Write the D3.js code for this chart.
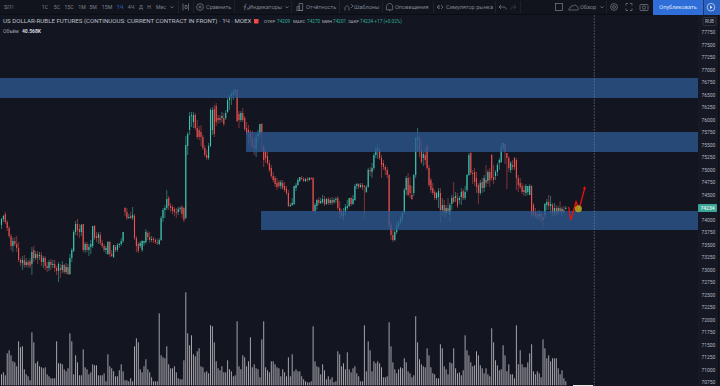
<!DOCTYPE html>
<html><head><meta charset="utf-8">
<script src="https://cdn.jsdelivr.net/npm/d3@7/dist/d3.min.js"></script>
<style>html,body{margin:0;padding:0;background:#131520;overflow:hidden}svg{display:block}text{font-family:Roboto,"Noto Sans",sans-serif}</style>
</head><body><svg id="c" width="720" height="386"></svg>
<script>
const opens=[73890,74010,74110,73950,73830,73670,73470,73570,73510,73430,
73190,73130,73190,73090,73150,73170,73110,73390,73230,73310,
73270,73290,73150,73230,73070,73030,73150,73090,73110,73030,
72970,73030,72990,73090,72950,73050,72910,73230,73370,73750,
73910,73810,73750,73910,73390,73510,73390,73450,73470,73870,
73670,73630,73690,73530,73470,73390,73310,73550,73310,73250,
73450,73390,73490,73510,73570,74230,74150,74030,74070,74030,
74070,73630,73510,73470,73390,73530,73550,73730,73650,73590,
73610,73590,73550,73510,73590,74030,74190,74230,74430,74270,
74250,74210,74150,74150,74210,74250,74230,74030,75470,75790,
76070,75950,76090,75830,75790,75750,75650,75430,75290,75230,
75470,75790,76210,76270,76030,76030,76030,76030,76030,76150,
76390,76470,76490,76550,76590,76110,75990,76130,76030,75830,
75790,75730,75630,75470,75430,75670,75710,75910,75450,75350,
75270,75130,75030,74870,74830,74730,74750,74670,74730,74670,
74610,74530,74270,74290,74310,74630,74690,74770,74830,74810,
74770,74810,74790,74830,74830,74170,74270,74390,74330,74350,
74410,74310,74410,74330,74390,74350,74390,74430,74230,74170,
74070,74150,74230,74270,74430,74310,74390,74670,74710,74650,
74690,74670,74550,74650,74990,74950,75030,75290,75390,75390,
75230,75130,75050,74990,74890,73890,73690,73590,73750,73870,
73950,74010,74130,74590,74830,74690,74490,74530,74890,75590,
75630,75390,75230,75290,75470,75030,74790,74630,74550,74430,
74450,74530,74190,74290,74130,74230,74090,74310,74450,74430,
74430,74390,74450,74570,74430,74590,74890,75330,74930,74950,
74830,74690,74530,74750,74630,74790,74770,74950,75290,74850,
74870,74950,75130,75150,75430,75510,75330,75230,74990,75090,
75230,75190,74830,74730,74670,74590,74530,74550,74490,74670,
74290,74150,74110,74070,74110,74050,74090,74290,74350,74270,
74290,74130,74230,74150,74230,74150,74190,74209];
const closes=[74010,74070,73950,73830,73670,73470,73570,73510,73430,73190,
73130,73190,73090,73150,73090,73070,73350,73230,73310,73230,
73290,73150,73230,73070,73030,73150,73090,73110,73030,72970,
73110,72990,73090,72950,73050,72910,73230,73390,73750,73910,
73790,73750,73890,73390,73510,73390,73450,73510,73870,73630,
73630,73710,73530,73470,73390,73430,73550,73310,73270,73490,
73390,73490,73510,73570,73750,74150,74030,74050,74030,74090,
73630,73470,73370,73530,73570,73570,73750,73650,73590,73610,
73590,73550,73530,73590,74030,74190,74230,74410,74270,74230,
74170,74150,74130,74210,74230,74110,73990,75490,75710,76070,
76090,76090,75830,75650,75650,75650,75430,75290,75230,75470,
76190,76190,75710,75950,75990,75990,76070,75910,76130,76390,
76470,76510,76550,76590,75970,75990,76130,75990,75810,75730,
75730,75630,75470,75430,75650,75710,75910,75750,75190,75230,
75130,74990,74870,74790,74710,74650,74670,74750,74630,74590,
74530,74270,74290,74330,74670,74690,74790,74850,74810,74770,
74810,74790,74830,74810,74170,74290,74390,74330,74370,74410,
74310,74410,74330,74390,74330,74390,74410,74230,74130,74070,
74150,74250,74270,74430,74310,74410,74670,74710,74650,74690,
74650,74650,74650,74990,74970,75030,75290,75390,75430,75230,
75090,75050,74990,74890,73890,73690,73590,73750,73890,73950,
74030,74130,74590,74830,74490,74530,74410,74890,75630,75650,
75390,75150,75310,75190,75030,74690,74590,74530,74430,74530,
74570,74190,74290,74130,74230,74150,74290,74430,74350,74470,
74270,74430,74550,74430,74550,74890,75290,74930,74910,74750,
74650,74530,74730,74630,74830,74730,74950,74790,74830,74790,
74950,75090,75190,75430,75530,75350,75230,75030,75130,75050,
75050,74830,74690,74650,74550,74550,74670,74670,74670,74090,
74110,74070,74030,74110,74050,73990,74310,74350,74270,74310,
74130,74230,74110,74230,74150,74210,74150,74234];
const highs=[74030,74090,74150,73990,73870,73710,73630,73650,73670,73550,
73230,73270,73290,73230,73190,73230,73450,73470,73370,73370,
73350,73350,73270,73270,73150,73190,73210,73190,73190,73070,
73150,73110,73170,73110,73130,73110,73310,73430,73790,73970,
74010,73910,73910,73910,73550,73550,73510,73590,73870,73890,
73750,73750,73750,73590,73510,73470,73570,73570,73390,73490,
73490,73530,73530,73630,73750,74250,74230,74110,74150,74250,
74110,73670,73550,73570,73590,73570,73810,73770,73750,73670,
73650,73630,73610,73630,74070,74230,74290,74590,74470,74330,
74290,74250,74230,74250,74270,74290,74250,75670,75750,76150,
76150,76150,76130,75990,75870,75890,75690,75490,75390,75530,
76230,76250,76290,76330,76090,76090,76150,76130,76190,76430,
76490,76570,76590,76610,76610,76170,76170,76230,76070,75950,
75890,75790,75770,75630,75690,75790,75910,75930,75490,75390,
75350,75190,75090,74950,74870,74830,74790,74790,74790,74750,
74670,74590,74330,74430,74670,74730,74830,74850,74870,74850,
74830,74850,74850,74850,74850,74330,74410,74450,74430,74490,
74470,74430,74450,74430,74450,74430,74450,74470,74370,74210,
74230,74310,74390,74430,74450,74490,74710,74730,74730,74730,
74730,74690,74690,75030,75050,75130,75330,75470,75510,75430,
75290,75190,75090,75050,74910,73950,73790,73830,73950,73990,
74070,74150,74630,74870,74930,74850,74670,74910,75650,75830,
75690,75590,75350,75430,75510,75090,74830,74730,74590,74550,
74630,74630,74430,74390,74290,74430,74330,74490,74750,74550,
74530,74470,74630,74610,74670,74910,75330,75350,74990,75030,
74950,74730,74790,74830,74890,75090,74990,75030,75310,75090,
74990,75130,75230,75530,75530,75530,75330,75270,75170,75190,
75250,75230,74890,74830,74730,74690,74710,74670,74710,74690,
74330,74230,74150,74190,74150,74110,74330,74410,74490,74470,
74330,74330,74290,74270,74370,74250,74270,74270];
const lows=[73810,73950,73910,73770,73630,73390,73350,73470,73350,73150,
73070,72990,73030,73050,73030,73030,72890,73150,73190,73110,
73190,73070,73030,72990,72950,72970,72990,73030,72950,72890,
72750,72830,72930,72910,72910,72890,72890,73150,73350,73690,
73670,73630,73670,73350,73330,73350,73270,73310,73430,73590,
73550,73510,73490,73430,73350,73310,73290,73250,73250,73230,
73350,73350,73430,73470,73530,74070,73990,74010,74010,73990,
73590,73350,73330,73430,73350,73470,73510,73590,73530,73550,
73530,73510,73490,73490,73570,73950,74030,74190,74190,74150,
74110,74070,74030,74090,74150,74030,73950,74010,75290,75690,
75850,75830,75790,75610,75590,75470,75390,75250,75190,75190,
75450,75690,75650,75870,75910,75930,75950,75870,75990,76130,
76190,76290,76390,76470,75950,75830,75950,75950,75770,75690,
75510,75470,75430,75290,75250,75550,75650,75390,75050,75130,
75090,74950,74830,74750,74650,74590,74630,74610,74590,74550,
74490,74250,74250,74270,74290,74570,74670,74750,74790,74750,
74750,74750,74770,74790,74150,74110,74190,74290,74310,74310,
74270,74290,74290,74290,74290,74310,74330,74190,74030,74010,
73990,74070,74190,74250,74270,74290,74370,74610,74610,74630,
74590,73990,74530,74630,74870,74830,74990,75230,75210,75190,
74830,74990,74890,74830,73810,73590,73550,73570,73710,73830,
73910,73950,74110,74490,74470,74430,74390,74470,74830,75350,
75250,75110,75070,75090,74990,74650,74530,74490,74390,74390,
74230,73930,74070,74030,74050,74110,73950,74190,74330,74350,
74230,74310,74290,74390,74390,74550,74870,74890,74710,74670,
74530,74310,74490,74530,74550,74650,74710,74650,74770,74710,
74790,74870,74990,75130,75390,75110,74610,74950,74930,74990,
74990,74590,74550,74610,74510,74470,74470,74490,74490,74050,
74070,74030,74010,73990,73950,73830,74030,74190,74190,74110,
74070,74070,74050,74090,74110,74070,74110,74201];
const volumes=[110,130,100,320,350,300,240,230,190,440,
380,390,160,110,90,50,530,430,220,240,
190,180,170,180,110,90,70,70,70,440,
220,220,210,160,140,170,520,440,110,300,
230,100,100,360,180,160,110,130,210,200,
200,100,100,100,120,40,310,190,170,140,
90,90,150,210,140,50,50,40,70,40,
390,470,430,160,130,190,260,160,130,80,
40,40,40,720,300,280,270,390,210,170,
170,190,130,70,60,60,250,930,520,400,
500,310,290,340,370,190,180,130,140,120,
600,590,430,240,170,150,190,130,130,250,
160,140,90,100,640,190,160,300,280,190,
240,480,180,210,170,160,80,460,640,180,
150,130,240,240,210,180,170,90,160,130,
90,280,90,310,140,160,140,140,90,60,
40,30,30,40,590,240,190,180,110,210,
150,60,90,60,80,30,40,340,310,190,
220,160,330,160,130,170,190,120,90,40,
40,600,140,440,350,140,240,220,240,220,
180,80,80,90,630,390,230,160,120,160,
180,170,270,230,140,120,80,100,690,430,
260,210,190,180,370,300,180,120,110,70,
70,410,370,190,160,110,230,220,370,170,
120,130,100,150,500,350,300,230,190,200,
340,300,200,170,120,170,110,90,570,430,
250,200,150,160,400,300,140,210,110,110,
70,600,210,350,210,180,180,230,320,410,
140,110,140,120,80,460,370,270,300,240,
270,270,270,170,110,150,70,40];

const zoneStart=[-1,128.7,136.6];
const zoneTop=[76830,75750,74170];
const zoneBottom=[76430,75350,73790];
const crosshairIndex=312;
const arrowIndex=[298.5,299.6,302.4,304,307.1];
const arrowPrice=[74250,73990,74356,74210,74644];
const markerIndex=[303.6];
const markerPrice=[74215];
const priceTicks=d3.range(70750,77751,250).filter(d=>d!==74250);
const resolutions=["1С","5С","15С","1М","5М","15М","1Ч","4Ч","Д","Н","Мес"];
const resolutionX=[45,57,69,82,93,107,120,131,141,149,161];
const toolLabels=["Сравнить","Индикаторы","Отчётность","Шаблоны","Оповещения","Симулятор рынка","Обзор"];
const toolLabelX=[206,249,306,354,395,446,580];
const separators=[178,193,234,291,339,382,433,495,520,606];
const ohlcLabels=["ОТКР","МАКС","МИН","ЗАКР"];
const ohlcValues=["74209","74270","74201","74234 +17 (+0.02%)"];
const ohlcLabelX=[264,293,322,348];
const ohlcValueX=[277,307,333,360];

const BG="#131520",UP="#3fc9b4",DOWN="#ef5350",DIM="#7d818d";
const svg=d3.select("#c");
const x=d3.scaleLinear().domain([0,297]).range([1.5,565.8]);
const y=d3.scaleLinear().domain([77750,70750]).range([32,382]);
const v=d3.scaleLinear().domain([0,1000]).range([385.3,285.3]);
svg.append("rect").attr("width",720).attr("height",386).attr("fill",BG);

const defs=svg.append("defs");
defs.append("clipPath").attr("id","plot").append("rect").attr("x",0).attr("y",15).attr("width",698).attr("height",371);
const plot=svg.append("g").attr("clip-path","url(#plot)");
const idx=d3.range(closes.length);

plot.append("g").selectAll("rect").data(idx).join("rect")
 .attr("x",i=>x(i)-.5).attr("width",1)
 .attr("y",i=>v(volumes[i])).attr("height",i=>v(0)-v(volumes[i]))
 .attr("fill","#a4a4aa");

const candles=plot.append("g");
candles.selectAll("line").data(idx).join("line")
 .attr("x1",i=>x(i)).attr("x2",i=>x(i))
 .attr("y1",i=>y(highs[i])).attr("y2",i=>y(lows[i]))
 .attr("stroke",i=>closes[i]>=opens[i]?UP:DOWN).attr("stroke-width",.5);
candles.selectAll("rect").data(idx).join("rect")
 .attr("x",i=>x(i)-.55).attr("width",1.1)
 .attr("y",i=>y(Math.max(opens[i],closes[i])))
 .attr("height",i=>Math.max(.6,Math.abs(y(opens[i])-y(closes[i]))))
 .attr("fill",i=>closes[i]>=opens[i]?UP:DOWN);

plot.append("g").selectAll("rect").data(zoneStart).join("rect")
 .attr("x",d=>x(d)).attr("width",d=>x(367)-x(d))
 .attr("y",(d,i)=>y(zoneTop[i])).attr("height",(d,i)=>y(zoneBottom[i])-y(zoneTop[i]))
 .attr("fill","#2b5891").attr("fill-opacity",.78);

plot.append("line").attr("x1",x(crosshairIndex)).attr("x2",x(crosshairIndex)).attr("y1",15).attr("y2",386)
 .attr("stroke","#7f8594").attr("stroke-opacity",.6).attr("stroke-width",.8).attr("stroke-dasharray","2 1");

plot.append("path").datum(arrowIndex).attr("fill","none").attr("stroke","#f01010").attr("stroke-width",1.3)
 .attr("d",d3.line().x(d=>x(d)).y((d,i)=>y(arrowPrice[i])));
const tip=[x(arrowIndex[4]),y(arrowPrice[4])];
svg.append("path").attr("fill","#f01010").attr("d",`M${tip[0]},${tip[1]-1}l-2.4,2.2l3.2,1z`);
plot.append("circle").attr("cx",x(markerIndex[0])).attr("cy",y(markerPrice[0])).attr("r",3.6)
 .attr("fill","#b5a31c").attr("fill-opacity",.88);

svg.append("rect").attr("x",573).attr("y",385).attr("width",20).attr("height",1).attr("fill","#e8e8ea");

// price panel
svg.append("rect").attr("x",698).attr("y",15).attr("width",22).attr("height",371).attr("fill","#161924");
svg.append("line").attr("x1",718.5).attr("x2",718.5).attr("y1",15).attr("y2",386).attr("stroke","#0c0e15");
const axis=d3.axisRight(y).tickValues(priceTicks).tickSize(0).tickPadding(0).tickFormat(d3.format("d"));
const ax=svg.append("g").attr("transform","translate(701.5,0)").call(axis);
ax.select(".domain").remove();
ax.selectAll("text").attr("fill","#b4b7c1").attr("font-size",4.9);
svg.append("rect").attr("x",703).attr("y",17.5).attr("width",13).attr("height",8).attr("rx",1).attr("fill","none").attr("stroke","#3a3e4a").attr("stroke-width",.7);
svg.append("text").attr("x",709.5).attr("y",23.2).attr("text-anchor","middle").attr("font-size",4.8).attr("fill","#b4b7c1").text("RUB");
svg.append("rect").attr("x",698).attr("y",204).attr("width",19).attr("height",8).attr("rx",.8).attr("fill","#3aa597");
svg.append("text").attr("x",707.5).attr("y",210).attr("text-anchor","middle").attr("font-size",5).attr("font-weight",500).attr("fill","#e8f5f2").text("74234");

// toolbar
svg.append("rect").attr("width",720).attr("height",14).attr("fill","#12141d");
svg.append("line").attr("x1",0).attr("x2",720).attr("y1",14.5).attr("y2",14.5).attr("stroke","#0b0c12");
const T=(s,px,py,o={})=>svg.append("text").attr("x",px).attr("y",py).attr("font-size",o.size||5.6).attr("fill",o.fill||DIM)
 .attr("font-weight",o.w||400).attr("text-anchor",o.a||"start").text(s);
T("SI1!",4,9.2);
resolutions.forEach((s,i)=>T(s,resolutionX[i],9.2,{fill:s==="1Ч"?"#2f6fd6":DIM,a:"middle",size:5.2}));
toolLabels.forEach((s,i)=>T(s,toolLabelX[i],9.2));
svg.append("g").selectAll("line").data(separators).join("line")
 .attr("x1",d=>d+.5).attr("x2",d=>d+.5).attr("y1",1).attr("y2",13).attr("stroke","#23262f").attr("stroke-width",.7);
const ico=svg.append("g").attr("fill","none").attr("stroke",DIM).attr("stroke-width",.7);
const chev=c=>ico.append("path").attr("d",`M${c-1.6},6.4l1.6,1.5l1.6,-1.5`);
[172,287,602].forEach(chev);
ico.append("path").attr("d","M183,3.5v7M187,5.5h-2v3h2zM188.5,3.5v7");
ico.append("circle").attr("cx",200).attr("cy",7).attr("r",3.4);
ico.append("path").attr("d","M198.4,7h3.2M200,5.4v3.2");
ico.append("path").attr("d","M244,10c1,0 .8,-1 1,-3c.2,-2 .4,-3 1.6,-3M243.4,6.8h2.6M247.2,7.5l2,2.2M249.2,7.5l-2,2.2");
ico.append("path").attr("d","M297,10.5v-4h2.2v4M299.2,10.5v-7h3.4v7zM296.5,10.5h6.5");
ico.append("path").attr("d","M345,10.5v-3l2,-2l2,2v3M351,4l2,2l-2,2");
ico.append("path").attr("d","M386.5,9.8c-.5,-5 1,-6.3 3.2,-6.3c2.3,0 3.5,2 2.8,6.3zM389,10.6h1.4");
ico.append("path").attr("d","M437,7l2,-2v4zM441,5l2,2l-2,2");
ico.append("path").attr("d","M499,7h5c1.5,0 2,1 2,2.5M499,7l2,-2M499,7l2,2");
ico.append("path").attr("stroke","#3e414c").attr("d","M516,7h-3c-1.5,0 -2,1 -2,2.5M516,7l-2,-2M516,7l-2,2");
ico.append("rect").attr("x",555.5).attr("y",3.5).attr("width",7).attr("height",7);
ico.append("path").attr("d","M569,10h8c2,0 2.2,-2.4 .4,-2.8c-.4,-2.2 -3,-2.8 -4.2,-1.2c-2,-.6 -3,1 -2.6,1.8c-1.8,.2 -2.4,2.2 -1.6,2.2z");
ico.append("circle").attr("cx",614).attr("cy",7).attr("r",1.4);
ico.append("circle").attr("cx",614).attr("cy",7).attr("r",3.4);
ico.append("path").attr("d","M626,5.5v-2h2M632,5.5v-2h-2M626,8.5v2h2M632,8.5v2h-2");
ico.append("rect").attr("x",640).attr("y",4.5).attr("width",8).attr("height",6).attr("rx",.8);
ico.append("circle").attr("cx",644).attr("cy",7.5).attr("r",1.6);
svg.append("rect").attr("x",653).attr("y",0).attr("width",50).attr("height",15).attr("fill","#2f6ed8");
T("Опубликовать",678,9.4,{fill:"#d8e4fa",a:"middle"});
svg.append("rect").attr("x",703.5).attr("y",0).attr("width",16.5).attr("height",15).attr("fill","#2a62c2");
svg.append("circle").attr("cx",711).attr("cy",7.2).attr("r",3.8).attr("fill","none").attr("stroke","#d8e4fa").attr("stroke-width",.7);
svg.append("path").attr("d","M710,5.5l2.6,1.7l-2.6,1.7z").attr("fill","#d8e4fa");

// legend
T("US DOLLAR-RUBLE FUTURES (CONTINUOUS: CURRENT CONTRACT IN FRONT) · 1Ч · MOEX",3,23.4,{fill:"#bcc0ca",size:6.15});
svg.append("rect").attr("x",254).attr("y",19).attr("width",4.5).attr("height",4.5).attr("fill","#ef4a4a");
ohlcLabels.forEach((s,i)=>{
 T(s,ohlcLabelX[i],23.2,{fill:"#aeb1bb",size:4.4});
 T(ohlcValues[i],ohlcValueX[i],23.2,{fill:"#2fae9c",size:4.7});
});
T("Объём",3,32.6,{fill:"#a0a3ad",size:5});
T("40.568K",22,32.6,{fill:"#d8dae0",size:5,w:700});
</script></body></html>
